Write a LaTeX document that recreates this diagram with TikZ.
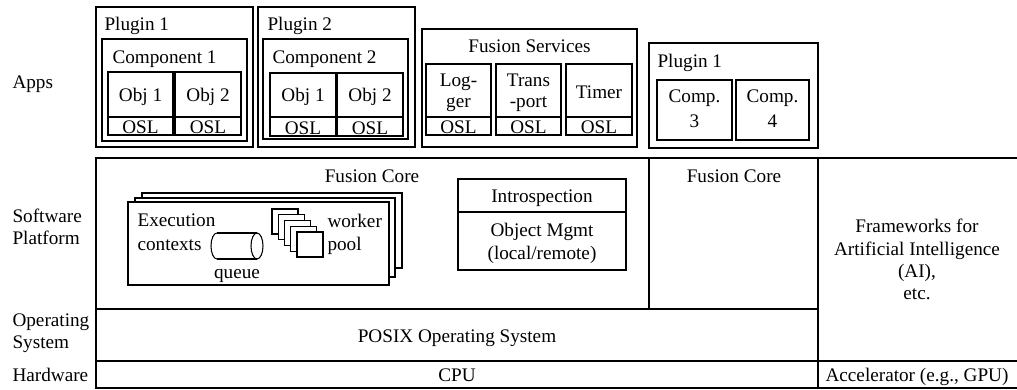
\documentclass[tikz,border=0pt]{standalone}
\usepackage{fontspec}
\setmainfont{Liberation Serif}
\begin{document}
\begin{tikzpicture}[thick, x=0.75pt, y=-0.75pt,
  txt/.style={inner sep=0pt, anchor=base},
  ltxt/.style={inner sep=0pt, anchor=base west},
  blk/.style={draw, fill=white}]
\fontsize{14.4}{16.7}\selectfont
\useasboundingbox (0,0) rectangle (1017,389);

% layer names
\node[ltxt](apps) at (12,88) {Apps};
\node[ltxt](swA) at (12,222) {Software};
\node[ltxt](swB) at (12,244) {Platform};
\node[ltxt](osA) at (12,326) {Operating};
\node[ltxt](osB) at (12,348) {System};
\node[ltxt](hw) at (12,381) {Hardware};

% plugin 1
\draw[blk] (96,7) rectangle (253,147);
\node[ltxt](pluginA) at (104,31) {Plugin 1};
\draw[blk] (102,39) rectangle (247,141);
\node[ltxt](compA) at (112,63) {Component 1};
\draw[blk] (108,72) rectangle (173,135);
\draw (108,117) -- (173,117);
\draw[blk] (175,72) rectangle (241,135);
\draw (175,117) -- (241,117);
\node[txt](objAA) at (140.5,101) {Obj 1};
\node[txt](objAB) at (208,101) {Obj 2};
\node[txt](oslAA) at (140.5,133) {OSL};
\node[txt](oslAB) at (208,133) {OSL};

% plugin 2
\draw[blk] (258,7) rectangle (415,147);
\node[ltxt](pluginB) at (267,31) {Plugin 2};
\draw[blk] (263,39) rectangle (408,139);
\node[ltxt](compB) at (272,63) {Component 2};
\draw[blk] (270,73) rectangle (336,136);
\draw (270,117) -- (336,117);
\draw[blk] (337,73) rectangle (403,136);
\draw (337,117) -- (403,117);
\node[txt](objBA) at (303,101) {Obj 1};
\node[txt](objBB) at (370,101) {Obj 2};
\node[txt](oslBA) at (303,134) {OSL};
\node[txt](oslBB) at (370,134) {OSL};

% fusion services
\draw[blk] (422,29) rectangle (637,147);
\node[txt](services) at (529.5,52) {Fusion Services};
\foreach \xa/\xb in {426/491, 496/561, 566/632} {
  \draw[blk] (\xa,64) rectangle (\xb,135);
  \draw (\xa,117) -- (\xb,117);
  \node[txt] at ({(\xa+\xb)/2},133) {OSL};
}
\node[txt](loggerA) at (458.5,86) {Log-};
\node[txt](loggerB) at (458.5,107) {ger};
\node[txt](transA) at (528.5,86) {Trans};
\node[txt](transB) at (528.5,107) {-port};
\node[txt](timer) at (599,98) {Timer};

% plugin 1 (components)
\draw[blk] (649,43) rectangle (818,148);
\node[ltxt](pluginC) at (657,67) {Plugin 1};
\draw[blk] (657,80) rectangle (732,140);
\draw[blk] (736,80) rectangle (809,140);
\node[txt](compCA) at (694.5,102) {Comp.};
\node[txt](compCB) at (694.5,127) {3};
\node[txt](compDA) at (772.5,102) {Comp.};
\node[txt](compDB) at (772.5,127) {4};

% software platform
\draw[blk] (96,158) rectangle (818,309);
\draw (649,158) -- (649,309);
\node[txt](coreA) at (372,182) {Fusion Core};
\node[txt](coreB) at (734,182) {Fusion Core};

% execution contexts
\draw[blk] (142,193) rectangle (402,268);
\draw[blk] (135,198) rectangle (395,277);
\draw[blk] (128,202) rectangle (389,285);
\node[ltxt](execA) at (137,226) {Execution};
\node[ltxt](execB) at (137,250) {contexts};
\draw (217,233) -- (257,233);
\draw (217,259) -- (257,259);
\draw (217,233) arc[start angle=270, end angle=90, x radius=6, y radius=13];
\draw (257,246) ellipse[x radius=6, y radius=13];
\node[txt](queue) at (237,278) {queue};
\foreach \i in {0,...,4}
  \draw[blk] ({272+6.25*\i},{209+5.75*\i}) rectangle ++(26,25);
\node[ltxt](workerA) at (327,227) {worker};
\node[ltxt](workerB) at (327,250) {pool};

% object management
\draw[blk] (458,179) rectangle (626,270);
\draw (458,212) -- (626,212);
\node[txt](intro) at (542,202) {Introspection};
\node[txt](objmA) at (542,236) {Object Mgmt};
\node[txt](objmB) at (542,259) {(local/remote)};

% frameworks
\draw[blk] (818,158) rectangle (1022,361);
\node[txt](fwA) at (917,232) {Frameworks for};
\node[txt](fwB) at (917,255) {Artificial Intelligence};
\node[txt](fwC) at (917,277) {(AI),};
\node[txt](fwD) at (917,299) {etc.};

% operating system and hardware
\draw[blk] (96,309) rectangle (818,361);
\node[txt](posix) at (457,342) {POSIX Operating System};
\draw[blk] (96,361) rectangle (818,388);
\node[txt](cpu) at (457,381) {CPU};
\draw[blk] (818,361) rectangle (1022,388);
\node[txt](accel) at (917,381) {Accelerator (e.g., GPU)};
\end{tikzpicture}
\end{document}
